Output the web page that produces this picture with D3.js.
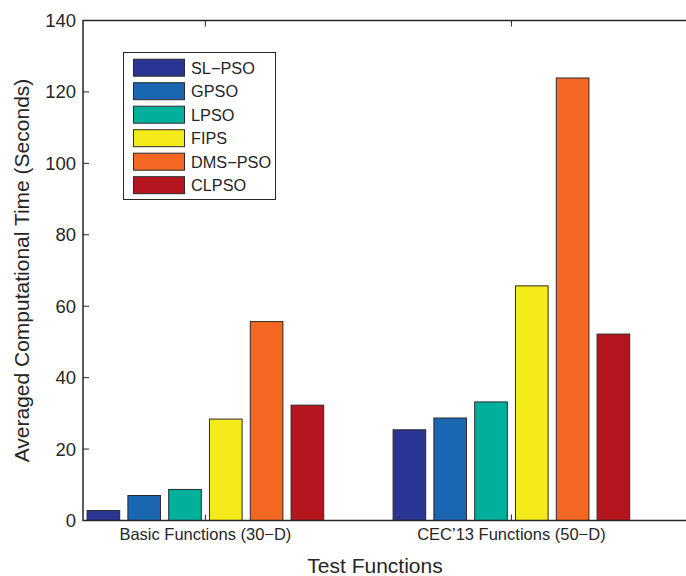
<!DOCTYPE html>
<html>
<head>
<meta charset="utf-8">
<script src="https://cdn.jsdelivr.net/npm/d3@7"></script>
<style>
  body { margin: 0; background: #fff; }
  svg { display: block; font-family: "Liberation Sans", Arial, sans-serif; }
</style>
</head>
<body>
<div id="chart"></div>
<script>
const groups = ["Basic Functions (30\u2212D)", "CEC\u201913 Functions (50\u2212D)"];
const algos = ["SL\u2212PSO", "GPSO", "LPSO", "FIPS", "DMS\u2212PSO", "CLPSO"];
const colors = ["#2a3593", "#1a66b0", "#00b09c", "#f5eb1a", "#f36722", "#b5161d"];
const basic = [2.8, 7.0, 8.7, 28.4, 55.7, 32.3];
const cec = [25.4, 28.7, 33.2, 65.7, 123.9, 52.2];
const yTicks = [0, 20, 40, 60, 80, 100, 120, 140];

const width = 686, height = 576;
const plotLeft = 83, plotTop = 20.5, plotBottom = 520.5;
const ink = "#262626";

const svg = d3.select("#chart").append("svg")
  .attr("width", width)
  .attr("height", height);

// x positions in MATLAB-style units: groups at 1 and 2
const x = d3.scaleLinear().domain([0.6, 2.6]).range([plotLeft, plotLeft + 612]);
const y = d3.scaleLinear().domain([0, 140]).range([plotBottom, plotTop]);
const inner = d3.scaleBand().domain(d3.range(algos.length))
  .range([-0.4, 0.4]).paddingInner(0.2).paddingOuter(0.1);

const rows = [];
[basic, cec].forEach((vals, g) => {
  vals.forEach((v, i) => rows.push({ g: g + 1, i, v }));
});

svg.append("g").selectAll("rect")
  .data(rows)
  .join("rect")
  .attr("x", d => x(d.g + inner(d.i)))
  .attr("width", d => x(d.g + inner(d.i) + inner.bandwidth()) - x(d.g + inner(d.i)))
  .attr("y", d => y(d.v))
  .attr("height", d => y(0) - y(d.v))
  .attr("fill", d => colors[d.i])
  .attr("stroke", "#2b2b2b")
  .attr("stroke-width", 1);

// axes box (left, top, bottom; right side runs off the picture)
const frame = svg.append("g").attr("stroke", ink).attr("stroke-width", 1.5).attr("fill", "none");
frame.append("path").attr("d", `M${width},${plotTop}H${plotLeft}V${plotBottom}H${width}`);

// y ticks, inward, on left axis
const yAxis = svg.append("g");
yAxis.selectAll("line").data(yTicks).join("line")
  .attr("x1", plotLeft).attr("x2", plotLeft + 6)
  .attr("y1", d => y(d)).attr("y2", d => y(d))
  .attr("stroke", ink).attr("stroke-width", 1);
yAxis.selectAll("text").data(yTicks).join("text")
  .attr("x", plotLeft - 7)
  .attr("y", d => y(d))
  .attr("dy", "0.35em")
  .attr("text-anchor", "end")
  .attr("font-size", 18.5)
  .attr("fill", ink)
  .text(d => d);

// x ticks, inward, on bottom and top
const xAxis = svg.append("g");
[1, 2].forEach(g => {
  xAxis.append("line").attr("x1", x(g)).attr("x2", x(g))
    .attr("y1", plotBottom).attr("y2", plotBottom - 6).attr("stroke", ink);
  xAxis.append("line").attr("x1", x(g)).attr("x2", x(g))
    .attr("y1", plotTop).attr("y2", plotTop + 6).attr("stroke", ink);
});
xAxis.selectAll("text").data(groups).join("text")
  .attr("x", (d, i) => x(i + 1))
  .attr("y", 540)
  .attr("text-anchor", "middle")
  .attr("font-size", 16.5)
  .attr("fill", ink)
  .text(d => d);

svg.append("text")
  .attr("x", 375)
  .attr("y", 573)
  .attr("text-anchor", "middle")
  .attr("font-size", 21)
  .attr("fill", ink)
  .text("Test Functions");

svg.append("text")
  .attr("transform", `translate(29,${(plotTop + plotBottom) / 2}) rotate(-90)`)
  .attr("text-anchor", "middle")
  .attr("font-size", 21)
  .attr("fill", ink)
  .text("Averaged Computational Time (Seconds)");

// legend
const legend = svg.append("g");
legend.append("rect")
  .attr("x", 123.5).attr("y", 52.5)
  .attr("width", 152).attr("height", 147)
  .attr("fill", "#fff").attr("stroke", ink).attr("stroke-width", 1);
const item = legend.selectAll("g.item").data(algos).join("g")
  .attr("class", "item")
  .attr("transform", (d, i) => `translate(0,${67.7 + i * 23.5})`);
item.append("rect")
  .attr("x", 133.5).attr("y", -8.5)
  .attr("width", 51).attr("height", 17)
  .attr("fill", (d, i) => colors[i])
  .attr("stroke", "#2b2b2b");
item.append("text")
  .attr("x", 191)
  .attr("dy", "0.36em")
  .attr("font-size", 16.3)
  .attr("fill", ink)
  .text(d => d);
</script>
</body>
</html>
